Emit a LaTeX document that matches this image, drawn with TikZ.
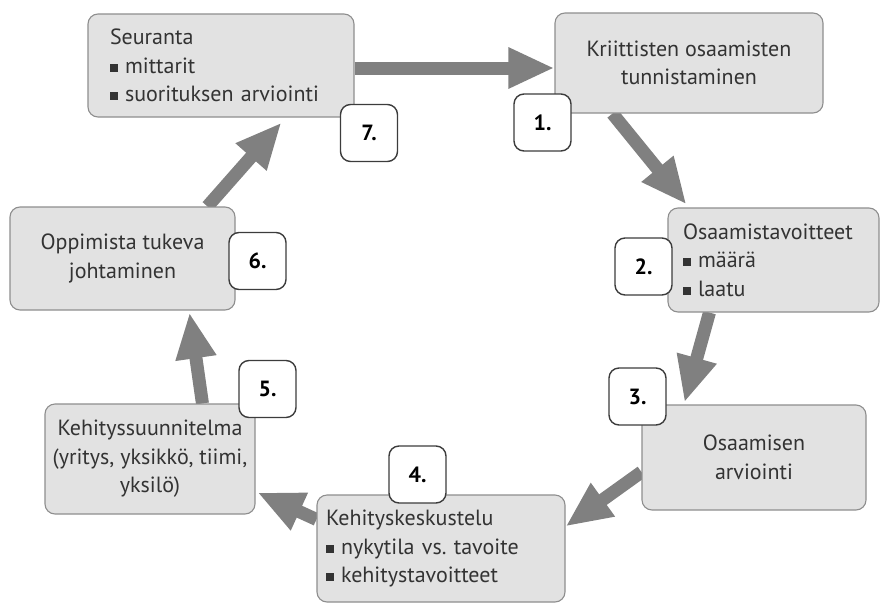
\documentclass[tikz,border=0pt]{standalone}
\usepackage{fontspec}
\setmainfont{PT Sans}
\usepackage{tikz}
\usetikzlibrary{arrows.meta,backgrounds}
\definecolor{boxfill}{HTML}{E2E2E2}
\definecolor{boxline}{HTML}{8E8E8E}
\definecolor{badgeline}{HTML}{3C3C3C}
\definecolor{flowgray}{HTML}{808080}
\definecolor{txt}{HTML}{333333}
\frenchspacing
\newcommand{\sqb}{\textcolor{txt}{\rule[1.5pt]{8pt}{8pt}}\hspace{7pt}}
\tikzset{
  box/.style={rectangle,rounded corners=10pt,draw=boxline,line width=1.1pt,fill=boxfill,
    text=txt,inner sep=0pt,font=\fontsize{22}{28.5}\selectfont},
  badge/.style={rectangle,rounded corners=10pt,draw=badgeline,line width=1.4pt,fill=white,
    text=black,minimum size=57pt,inner sep=0pt,font=\fontsize{22}{26}\selectfont\bfseries},
  flow/.style={draw=flowgray,line width=13pt,-{Triangle[length=46pt,width=38pt]},color=flowgray}
}
\begin{document}
\begin{tikzpicture}[x=1pt,y=-1pt]
\useasboundingbox (0,0) rectangle (880,605);
\node[box,minimum width=268pt,minimum height=100pt,align=center] (b1) at (689,63) {Kriittisten osaamisten\\tunnistaminen};
\node[box,minimum width=211pt,minimum height=104pt,align=left,text width=181pt] (b2) at (773.5,260) {Osaamistavoitteet\\\sqb määrä\\\sqb laatu};
\node[box,minimum width=224pt,minimum height=105pt,align=center] (b3) at (754,457.5) {Osaamisen\\arviointi};
\node[box,minimum width=248pt,minimum height=107pt,align=left,text width=230pt] (b4) at (441,548.5) {Kehityskeskustelu\\\sqb nykytila vs. tavoite\\\sqb kehitystavoitteet};
\node[box,minimum width=210pt,minimum height=110pt,align=center] (b5) at (150,459) {Kehityssuunnitelma\\(yritys, yksikkö, tiimi,\\yksilö)};
\node[box,minimum width=225pt,minimum height=103pt,align=center] (b6) at (122.5,258.5) {Oppimista tukeva\\johtaminen};
\node[box,minimum width=266pt,minimum height=103pt,align=left,text width=222pt] (b7) at (221,65.5) {Seuranta\\\sqb mittarit\\\sqb suorituksen arviointi};
\node[badge] (n1) at (542.5,122.5) {1.};
\node[badge] (n2) at (643.5,266.5) {2.};
\node[badge] (n3) at (637.5,396.5) {3.};
\node[badge] (n4) at (417.5,474.5) {4.};
\node[badge] (n5) at (267.5,389) {5.};
\node[badge] (n6) at (257.5,261) {6.};
\node[badge] (n7) at (369,133) {7.};
\begin{scope}[on background layer]
\draw[flow] ([yshift=-2.5pt]b7.east) -- ([yshift=-5pt]b1.west);
\draw[flow] ([xshift=58pt]b1.south west) -- ([xshift=19pt,yshift=3pt]b2.north west);
\draw[flow] ([xshift=42pt]b2.south west) -- ([xshift=43pt,yshift=2pt]b3.north west);
\draw[flow] ([yshift=-14.5pt]b3.west) -- ([yshift=-32pt]b4.north east);
\draw[flow] ([yshift=-25pt]b4.north west) -- ([xshift=2pt,yshift=22pt]b5.south east);
\draw[flow] ([xshift=158pt]b5.north west) -- ([xshift=180pt,yshift=-2pt]b6.south west);
\draw[flow] ([xshift=198pt]b6.north west) -- ([xshift=194pt,yshift=-5pt]b7.south west);
\end{scope}
\end{tikzpicture}
\end{document}
